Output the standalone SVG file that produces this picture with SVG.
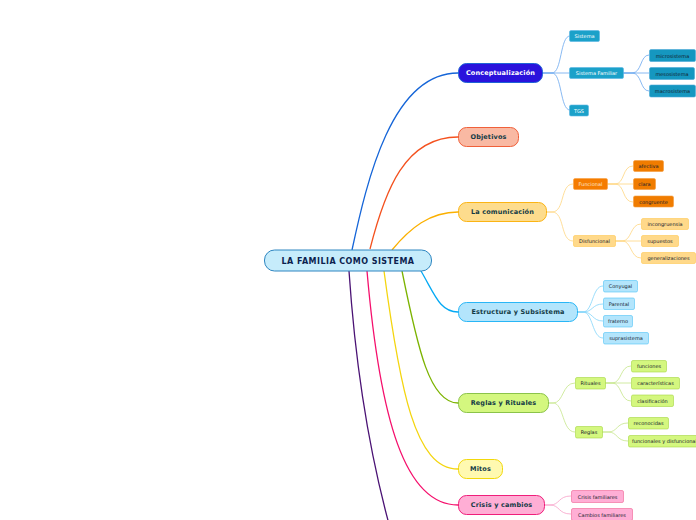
<svg xmlns="http://www.w3.org/2000/svg" width="696" height="520" viewBox="0 0 696 520">
<style>
text{font-family:"DejaVu Sans","Liberation Sans",sans-serif;text-anchor:middle;dominant-baseline:central}
.main{font-size:6.5px;font-weight:bold;fill:#123a45;letter-spacing:0.15px}
.sm{font-size:5px;fill:#14202c}
.wt{fill:#ffffff}
.c{fill:none;stroke-width:1.3}
.s{fill:none;stroke-width:0.8}
</style>
<rect width="696" height="520" fill="#ffffff"/>
<g id="connectors">
<path class="c" stroke="#1565d8" d="M352,250 C367,180 392,73 458,73"/>
<path class="c" stroke="#f4511e" d="M370,249 C385,190 405,137 458,137"/>
<path class="c" stroke="#fbb000" d="M392,250 C410,228 430,212 458,212"/>
<path class="c" stroke="#03a9f4" d="M421,271 C435,295 440,312 458,312"/>
<path class="c" stroke="#7cb300" d="M402,271 C418,350 430,403 458,403"/>
<path class="c" stroke="#f4d50e" d="M384,271 C400,390 415,469 458,469"/>
<path class="c" stroke="#f50f6c" d="M367,271 C380,420 405,505 458,505"/>
<path class="c" stroke="#4a1274" d="M349,271 C355,360 368,450 392,535"/>
<g stroke="#6aa7ef">
<path class="s" d="M542,73 L552,73 C562,73 560,36 570,36"/>
<path class="s" d="M542,73 L570,73"/>
<path class="s" d="M542,73 L552,73 C562,73 560,110 570,110"/>
<path class="s" d="M623,73 L632,73 C642,73 640,55 649,55"/>
<path class="s" d="M623,73 L649,73"/>
<path class="s" d="M623,73 L632,73 C642,73 640,91 649,91"/>
</g>
<g stroke="#ffd580">
<path class="s" d="M546,212 L552,212 C565,212 560,184 573,184"/>
<path class="s" d="M546,212 L552,212 C565,212 560,241 573,241"/>
<path class="s" d="M607,184 L615,184 C625,184 622,166 633,166"/>
<path class="s" d="M607,184 L633,184"/>
<path class="s" d="M607,184 L615,184 C625,184 622,202 633,202"/>
<path class="s" d="M615,241 L622,241 C632,241 630,224 641,224"/>
<path class="s" d="M615,241 L641,241"/>
<path class="s" d="M615,241 L622,241 C632,241 630,258 641,258"/>
</g>
<g stroke="#81d4fa">
<path class="s" d="M577,312 L583,312 C593,312 592,286 603,286"/>
<path class="s" d="M577,312 L583,312 C593,312 592,304 603,304"/>
<path class="s" d="M577,312 L583,312 C593,312 592,321 603,321"/>
<path class="s" d="M577,312 L583,312 C593,312 592,338 603,338"/>
</g>
<g stroke="#c5e68a">
<path class="s" d="M548,403 L553,403 C564,403 562,383 575,383"/>
<path class="s" d="M548,403 L553,403 C564,403 562,432 575,432"/>
<path class="s" d="M605,383 L612,383 C622,383 620,366 631,366"/>
<path class="s" d="M605,383 L631,383"/>
<path class="s" d="M605,383 L612,383 C622,383 620,401 631,401"/>
<path class="s" d="M602,432 L608,432 C618,432 616,423 628,423"/>
<path class="s" d="M602,432 L608,432 C618,432 616,441 628,441"/>
</g>
<g stroke="#f8a0c8">
<path class="s" d="M544,505 L550,505 C560,505 558,496 571,496"/>
<path class="s" d="M544,505 L550,505 C560,505 558,514 571,514"/>
</g>
</g>
<g id="root">
<rect x="264.5" y="250" width="167" height="21" rx="10" fill="#c6ecfb" stroke="#2e86c1" stroke-width="1"/>
<text x="348" y="261" style="font-size:8px;font-weight:bold;fill:#0c1f4f;letter-spacing:0.45px">LA FAMILIA COMO SISTEMA</text>
</g>
<g id="conceptualizacion">
<rect x="458.5" y="63.5" width="84" height="19" rx="8" fill="#2a12dc" stroke="#1e63d6"/>
<text class="main wt" x="500.5" y="73">Conceptualización</text>
</g>
<g id="sistema"><rect x="569.5" y="30.5" width="30" height="11" rx="1.5" fill="#1ba1c9" stroke="#5ab6e4" stroke-width="0.6"/><text class="sm wt" x="584.5" y="36">Sistema</text></g>
<g id="sistema-familiar"><rect x="569.5" y="67.5" width="54" height="11" rx="1.5" fill="#1ba1c9" stroke="#5ab6e4" stroke-width="0.6"/><text class="sm wt" x="596.5" y="73">Sistema Familiar</text></g>
<g id="tgs"><rect x="569.5" y="105" width="19" height="11" rx="1.5" fill="#1ba1c9" stroke="#5ab6e4" stroke-width="0.6"/><text class="sm wt" x="579" y="110.5">TGS</text></g>
<g id="microsistema"><rect x="649.5" y="49.5" width="46" height="12" rx="1.5" fill="#1597c0" stroke="#4aa8d8" stroke-width="0.6"/><text class="sm" x="672.5" y="55.5">microsistema</text></g>
<g id="mesosistema"><rect x="649.5" y="67.5" width="45" height="12" rx="1.5" fill="#1597c0" stroke="#4aa8d8" stroke-width="0.6"/><text class="sm" x="672" y="73.5">mesosistema</text></g>
<g id="macrosistema"><rect x="649.5" y="85" width="46" height="12" rx="1.5" fill="#1597c0" stroke="#4aa8d8" stroke-width="0.6"/><text class="sm" x="672.5" y="91">macrosistema</text></g>
<g id="objetivos">
<rect x="458.5" y="127.5" width="60" height="19" rx="8" fill="#f9b9a3" stroke="#f0603a"/>
<text class="main" x="488.5" y="137">Objetivos</text>
</g>
<g id="comunicacion">
<rect x="458.5" y="202.5" width="88" height="19" rx="8" fill="#fddc8d" stroke="#fbb414"/>
<text class="main" x="502.5" y="212">La comunicación</text>
</g>
<g id="funcional"><rect x="573.5" y="178.5" width="34" height="11" rx="1.5" fill="#f57c00" stroke="#f8a040" stroke-width="0.6"/><text class="sm" style="fill:#fde8d0" x="590.5" y="184">Funcional</text></g>
<g id="disfuncional"><rect x="573.5" y="235.5" width="42" height="11" rx="1.5" fill="#ffd98a" stroke="#ffc850" stroke-width="0.6"/><text class="sm" x="594.5" y="241">Disfuncional</text></g>
<g id="afectiva"><rect x="633.5" y="160.5" width="30" height="11" rx="1.5" fill="#f07c00" stroke="#f59a3a" stroke-width="0.6"/><text class="sm" x="648.5" y="166">afectiva</text></g>
<g id="clara"><rect x="633.5" y="178.5" width="22" height="11" rx="1.5" fill="#f07c00" stroke="#f59a3a" stroke-width="0.6"/><text class="sm" x="644.5" y="184">clara</text></g>
<g id="congruente"><rect x="633.5" y="196" width="40" height="11" rx="1.5" fill="#f07c00" stroke="#f59a3a" stroke-width="0.6"/><text class="sm" x="653.5" y="201.5">congruente</text></g>
<g id="incongruensia"><rect x="641.5" y="218.5" width="47" height="11" rx="1.5" fill="#ffd98a" stroke="#ffc850" stroke-width="0.6"/><text class="sm" x="665" y="224">incongruensia</text></g>
<g id="supuestos"><rect x="641.5" y="235.5" width="37" height="11" rx="1.5" fill="#ffd98a" stroke="#ffc850" stroke-width="0.6"/><text class="sm" x="660" y="241">supuestos</text></g>
<g id="generalizaciones"><rect x="641.5" y="252.5" width="54" height="11" rx="1.5" fill="#ffd98a" stroke="#ffc850" stroke-width="0.6"/><text class="sm" x="668.5" y="258">generalizaciones</text></g>
<g id="estructura">
<rect x="458.5" y="302.5" width="119" height="19" rx="8" fill="#b3e5fc" stroke="#29b6f6"/>
<text class="main" x="518" y="312">Estructura y Subsistema</text>
</g>
<g id="conyugal"><rect x="603.5" y="280.5" width="34" height="11.5" rx="1.5" fill="#b3e5fc" stroke="#4fc3f7" stroke-width="0.6"/><text class="sm" x="620.5" y="286.2">Conyugal</text></g>
<g id="parental"><rect x="603.5" y="298" width="31" height="11.5" rx="1.5" fill="#b3e5fc" stroke="#4fc3f7" stroke-width="0.6"/><text class="sm" x="619" y="303.7">Parental</text></g>
<g id="fraterno"><rect x="603.5" y="315.5" width="29" height="11.5" rx="1.5" fill="#b3e5fc" stroke="#4fc3f7" stroke-width="0.6"/><text class="sm" x="618" y="321.2">fraterno</text></g>
<g id="suprasistema"><rect x="603.5" y="332.5" width="45" height="11.5" rx="1.5" fill="#b3e5fc" stroke="#4fc3f7" stroke-width="0.6"/><text class="sm" x="626" y="338.2">suprasistema</text></g>
<g id="reglas-rituales">
<rect x="458.5" y="393.5" width="90" height="19" rx="8" fill="#d4f77f" stroke="#8bc34a"/>
<text class="main" x="503.5" y="403">Reglas y Rituales</text>
</g>
<g id="rituales"><rect x="575.5" y="377.5" width="30" height="11.5" rx="1.5" fill="#d4f77f" stroke="#a5d63f" stroke-width="0.6"/><text class="sm" x="590.5" y="383.2">Rituales</text></g>
<g id="reglas"><rect x="575.5" y="426.5" width="27" height="11.5" rx="1.5" fill="#d4f77f" stroke="#a5d63f" stroke-width="0.6"/><text class="sm" x="589" y="432.2">Reglas</text></g>
<g id="funciones"><rect x="631.5" y="360.5" width="35" height="11.5" rx="1.5" fill="#d4f77f" stroke="#a5d63f" stroke-width="0.6"/><text class="sm" x="649" y="366.2">funciones</text></g>
<g id="caracteristicas"><rect x="631.5" y="377.5" width="48" height="11.5" rx="1.5" fill="#d4f77f" stroke="#a5d63f" stroke-width="0.6"/><text class="sm" x="655.5" y="383.2">características</text></g>
<g id="clasificacion"><rect x="631.5" y="395" width="42" height="11.5" rx="1.5" fill="#d4f77f" stroke="#a5d63f" stroke-width="0.6"/><text class="sm" x="652.5" y="400.7">clasificación</text></g>
<g id="reconocidas"><rect x="628.5" y="417.5" width="40" height="11.5" rx="1.5" fill="#d4f77f" stroke="#a5d63f" stroke-width="0.6"/><text class="sm" x="648.5" y="423.2">reconocidas</text></g>
<g id="funcionales-disfuncionales"><rect x="628.5" y="435.5" width="76" height="11.5" rx="1.5" fill="#d4f77f" stroke="#a5d63f" stroke-width="0.6"/><text class="sm" x="632" y="441.2" style="text-anchor:start">funcionales y disfuncionales</text></g>
<g id="mitos">
<rect x="458.5" y="459.5" width="44" height="19" rx="8" fill="#fff9b0" stroke="#f2d80b"/>
<text class="main" x="480.5" y="469">Mitos</text>
</g>
<g id="crisis">
<rect x="458.5" y="495.5" width="86" height="19" rx="8" fill="#ffaed5" stroke="#ef1f7b"/>
<text class="main" x="501.5" y="505">Crisis y cambios</text>
</g>
<g id="crisis-familiares"><rect x="571.5" y="490.5" width="52" height="12" rx="1.5" fill="#ffaed5" stroke="#f06292" stroke-width="0.6"/><text class="sm" x="597.5" y="496.5">Crisis familiares</text></g>
<g id="cambios-familiares"><rect x="571.5" y="508.5" width="61" height="12" rx="1.5" fill="#ffaed5" stroke="#f06292" stroke-width="0.6"/><text class="sm" x="602" y="514.5">Cambios familiares</text></g>
</svg>
